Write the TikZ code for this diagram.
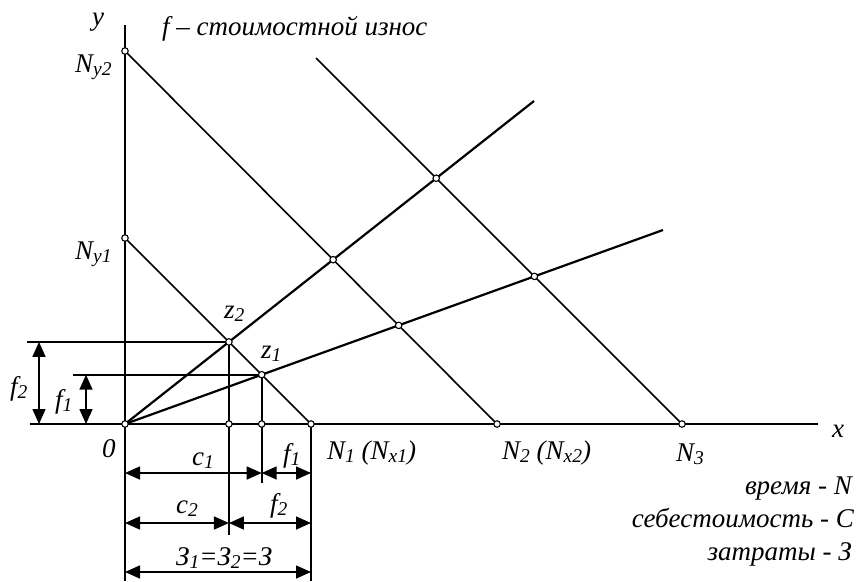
\documentclass[tikz,border=0pt]{standalone}
\usepackage{fontspec}
\setmainfont{Liberation Serif}
\usetikzlibrary{arrows.meta}
\newcommand\sbs[1]{\raisebox{-3pt}{\fontsize{19.5}{19.5}\selectfont #1}}
\begin{document}
\begin{tikzpicture}[x=1pt,y=-1pt,
 thinln/.style={line width=1.6pt},
 rayln/.style={line width=2.2pt},
 dim/.style={line width=1.6pt,{Triangle[length=15pt,width=13pt]}-{Triangle[length=15pt,width=13pt]}},
 pt/.style={circle,draw,fill=white,line width=1.1pt,inner sep=0,minimum size=6.5pt},
 lab/.style={font=\itshape\fontsize{27}{27}\selectfont,inner sep=0,anchor=base west},
 leg/.style={font=\itshape\fontsize{27}{27}\selectfont,inner sep=0,anchor=base east}]
\useasboundingbox (0,0) rectangle (858,581);
% key points
\coordinate (O) at (125,424);
\coordinate (Ytop) at (125,25);
\coordinate (Ybot) at (125,581);
\coordinate (Xl) at (30,424);
\coordinate (Xr) at (818,424);
\coordinate (Ny1) at (125,238);
\coordinate (Ny2) at (125,51);
\coordinate (N1) at (311,424);
\coordinate (N2) at (497,424);
\coordinate (N3) at (682,424);
\coordinate (T3) at (316,58);
\coordinate (R1) at (534,101);
\coordinate (R2) at (663,230);
\coordinate (z2) at (intersection of O--R1 and Ny1--N1);
\coordinate (z1) at (intersection of O--R2 and Ny1--N1);
\coordinate (p12) at (intersection of O--R1 and Ny2--N2);
\coordinate (p13) at (intersection of O--R1 and T3--N3);
\coordinate (p22) at (intersection of O--R2 and Ny2--N2);
\coordinate (p23) at (intersection of O--R2 and T3--N3);
\coordinate (L2) at (27,0);
\coordinate (L1) at (73,0);
\coordinate (A2) at (39,0);
\coordinate (A1) at (86,0);
\coordinate (B2) at (0,535);
\coordinate (B1) at (0,483);
\coordinate (r1) at (0,473);
\coordinate (r2) at (0,523);
\coordinate (r3) at (0,572);
% axes
\draw[thinln] (Xl) -- (Xr);
\draw[thinln] (Ytop) -- (Ybot);
% iso lines
\draw[thinln] (Ny1) -- (N1);
\draw[thinln] (Ny2) -- (N2);
\draw[thinln] (T3) -- (N3);
% rays
\draw[rayln] (O) -- (R1);
\draw[rayln] (O) -- (R2);
% horizontal guides
\draw[thinln] (z2) -- (z2 -| L2);
\draw[thinln] (z1) -- (z1 -| L1);
% vertical dims
\draw[dim] (z2 -| A2) -- (O -| A2);
\draw[dim] (z1 -| A1) -- (O -| A1);
% vertical guides
\draw[thinln] (z2) -- (z2 |- B2);
\draw[thinln] (z1) -- (z1 |- B1);
\draw[thinln] (N1) -- (N1 |- Ybot);
% horizontal dims
\draw[dim] (O |- r1) -- (z1 |- r1);
\draw[dim] (z1 |- r1) -- (N1 |- r1);
\draw[dim] (O |- r2) -- (z2 |- r2);
\draw[dim] (z2 |- r2) -- (N1 |- r2);
\draw[dim] (O |- r3) -- (N1 |- r3);
% points
\foreach \p in {O,z1,z2,N1,N2,N3,Ny1,Ny2,p12,p13,p22,p23}
  \node[pt] at (\p) {};
\node[pt] at (z2 |- O) {};
\node[pt] at (z1 |- O) {};
% labels
\node[lab] (ly) at (92,25) {y};
\node[lab] (lny2) at (75,72) {N\sbs{y2}};
\node[lab] (lny1) at (75,259) {N\sbs{y1}};
\node[lab] (ltitle) at (162,35) {f – стоимостной износ};
\node[lab] (lz2) at (224,318) {z\sbs{2}};
\node[lab] (lz1) at (261,358) {z\sbs{1}};
\node[lab] (lf2a) at (10,395) {f\sbs{2}};
\node[lab] (lf1a) at (55,408) {f\sbs{1}};
\node[lab] (l0) at (102,457) {0};
\node[lab] (lN1) at (327,459) {N\sbs{1} (N\sbs{x1})};
\node[lab] (lN2) at (502,459) {N\sbs{2} (N\sbs{x2})};
\node[lab] (lN3) at (676,461) {N\sbs{3}};
\node[lab] (lx) at (832,437) {x};
\node[lab] (lc1) at (192,465) {c\sbs{1}};
\node[lab] (lf1b) at (283,462) {f\sbs{1}};
\node[lab] (lc2) at (176,513) {c\sbs{2}};
\node[lab] (lf2b) at (270,512) {f\sbs{2}};
\node[lab] (lZ) at (176,565) {З\sbs{1}=З\sbs{2}=З};
\node[leg] (g1) at (852,494) {время - N};
\node[leg] (g2) at (854,527) {себестоимость - C};
\node[leg] (g3) at (852,560) {затраты - З};
\end{tikzpicture}
\end{document}
